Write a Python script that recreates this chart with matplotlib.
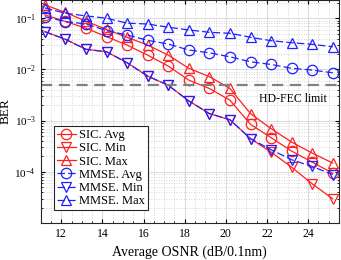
import matplotlib
matplotlib.use('Agg')
import matplotlib.pyplot as plt
import numpy as np
from matplotlib.ticker import FixedLocator, LogLocator, NullFormatter

plt.rcParams['font.family'] = ['Liberation Serif', 'DejaVu Serif']
plt.rcParams['mathtext.fontset'] = 'stix'

# OSNR points (dB/0.1nm)
osnr = [11.2, 12.2, 13.2, 14.2, 15.2, 16.2, 17.2, 18.2, 19.2, 20.2, 21.2, 22.2, 23.2, 24.2, 25.2]

sic_avg = [0.116, 0.0866, 0.0637, 0.0436, 0.0299, 0.0190, 0.0116, 0.00617, 0.00424, 0.0025,
           0.000845, 0.000464, 0.000254, 0.000154, 0.000094]
sic_min = [0.0546, 0.0387, 0.0247, 0.0221, 0.0135, 0.0074, 0.0049, 0.00242, 0.00137, 0.00104,
           0.000444, 0.000242, 0.000123, 0.0000582, 0.0000296]
sic_max = [0.182, 0.130, 0.0873, 0.0603, 0.0424, 0.0299, 0.0190, 0.0105, 0.00723, 0.00424,
           0.00137, 0.000697, 0.00038, 0.000232, 0.000148]

mmse_avg = [0.107, 0.0858, 0.0773, 0.0572, 0.0471, 0.037, 0.0313, 0.0239, 0.0211, 0.0176,
            0.0141, 0.0125, 0.0105, 0.0097, 0.0086]
mmse_min = [0.0546, 0.0387, 0.0247, 0.0221, 0.0135, 0.0074, 0.0049, 0.00242, 0.00137, 0.00104,
            0.000444, 0.00027, 0.000172, 0.000127, 0.0000885]
mmse_max = [0.159, 0.125, 0.111, 0.1, 0.080, 0.077, 0.0666, 0.059, 0.053, 0.0508,
            0.0424, 0.0364, 0.0332, 0.0309, 0.0277]

hd_fec = 4.9e-3

fig = plt.figure(figsize=(3.41, 2.6), dpi=100)
ax = fig.add_axes([0.1194, 0.1423, 0.8746, 0.857])

mk = dict(markersize=7.5, markerfacecolor='none', linewidth=0.9, markeredgewidth=0.9)
dash = (0, (6, 2.5))

ax.plot(osnr, sic_avg, color='#ff2020', marker='o', label='SIC. Avg', **mk)
ax.plot(osnr, sic_min, color='#ff2020', marker='v', label='SIC. Min', **mk)
ax.plot(osnr, sic_max, color='#ff2020', marker='^', label='SIC. Max', **mk)
ax.plot(osnr, mmse_avg, color='#2020ff', marker='o', linestyle=dash, label='MMSE. Avg', **mk)
ax.plot(osnr, mmse_min, color='#2020ff', marker='v', linestyle=dash, label='MMSE. Min', **mk)
ax.plot(osnr, mmse_max, color='#2020ff', marker='^', linestyle=dash, label='MMSE. Max', **mk)

ax.axhline(hd_fec, color='#808080', linestyle=(0, (5, 3)), linewidth=1.6)
ax.text(24.9, hd_fec * 0.72, 'HD-FEC limit', fontsize=8.5, ha='right', va='top')

ax.set_yscale('log')
ax.set_xlim(11, 25.5)
ax.set_ylim(1e-5, 0.225)
ax.xaxis.set_major_locator(FixedLocator([12, 14, 16, 18, 20, 22, 24]))
ax.xaxis.set_minor_locator(FixedLocator(np.arange(11, 25.6, 0.5)))
ax.yaxis.set_major_locator(FixedLocator([1e-4, 1e-3, 1e-2, 1e-1]))
ax.yaxis.set_minor_locator(LogLocator(base=10, subs=np.arange(2, 10)))
ax.yaxis.set_minor_formatter(NullFormatter())

ax.grid(True, which='major', color='#dcdcdc', linewidth=0.8)
ax.grid(True, which='minor', color='#c8c8c8', linestyle=(0, (1, 2)), linewidth=0.6)
ax.set_axisbelow(True)

ax.tick_params(which='both', direction='in', top=True, right=True, labelsize=8.5)
ax.tick_params(axis='y', labelsize=8)
ax.tick_params(which='major', length=3)
ax.tick_params(which='minor', length=1.5)
for s in ax.spines.values():
    s.set_linewidth(0.8)
    s.set_color('#262626')

ax.set_xlabel('Average OSNR (dB/0.1nm)', fontsize=10, labelpad=4)
ax.set_ylabel('BER', fontsize=9.5, labelpad=2)

leg = ax.legend(loc='lower left', bbox_to_anchor=(0.035, 0.045), fontsize=9,
                handlelength=1.5, handletextpad=0.3, labelspacing=0.1,
                borderpad=0.25, borderaxespad=0.2, fancybox=False,
                edgecolor='#262626', framealpha=1)
leg.get_frame().set_linewidth(0.8)

fig.savefig('out.png', dpi=100)
